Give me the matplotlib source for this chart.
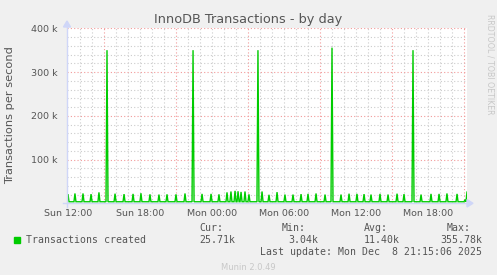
import matplotlib
matplotlib.use('Agg')
import matplotlib.pyplot as plt

# time in hours since Sun 00:00, values in k transactions/s
t_start = 11.9167   # Sun 11:55
t_end = 45.25       # Mon 21:15
base_level = 3.5

spike_times = [12.00, 12.58, 13.25, 13.92, 14.58, 15.25, 15.92, 16.67, 17.42, 18.08,
               18.83, 19.58, 20.25, 21.00, 21.75, 22.42, 23.17, 23.92, 24.58, 25.25,
               25.58, 25.92, 26.17, 26.42, 26.75, 27.08, 27.83, 28.17, 28.75, 29.42,
               30.08, 30.75, 31.42, 32.00, 32.67, 33.42, 34.00, 34.75, 35.42, 36.08,
               36.67, 37.25, 38.00, 38.67, 39.42, 40.00, 40.75, 41.42, 42.25, 42.92,
               43.58, 44.42, 45.08, 45.25]
spike_values = [21.0, 22.5, 22.5, 21.0, 25.0, 350.0, 22.0, 21.0, 21.5, 23.0,
                20.5, 20.0, 20.5, 20.5, 22.5, 350.0, 21.5, 21.5, 20.5, 25.0,
                27.0, 28.5, 27.5, 26.0, 27.0, 20.5, 350.0, 27.0, 19.5, 25.5,
                20.0, 20.0, 21.0, 21.5, 22.5, 20.0, 355.78, 20.0, 22.0, 21.5,
                21.0, 20.0, 21.5, 20.0, 22.0, 21.0, 350.0, 20.0, 21.5, 21.5,
                22.5, 21.5, 8.0, 25.71]

hour_labels = [12, 18, 24, 30, 36, 42]
hour_names = ['Sun 12:00', 'Sun 18:00', 'Mon 00:00', 'Mon 06:00', 'Mon 12:00', 'Mon 18:00']
major_x = [15, 21, 27, 33, 39, 45]
y_labels = [100, 200, 300, 400]

# build line vertices (spike peak with base points on each side)
xs, ys = [t_start], [base_level]
step = 5 / 60
for t, v in zip(spike_times, spike_values):
    if t - step > xs[-1]:
        xs.append(t - step)
        ys.append(base_level)
    xs.append(t)
    ys.append(v)
    if t + step <= t_end:
        xs.append(t + step)
        ys.append(base_level)

fig = plt.figure(figsize=(4.97, 2.75), dpi=100)
fig.patch.set_facecolor('#F0F0F0')
W, H = 497, 275
ax = fig.add_axes([67 / W, (H - 203.3) / H, 400 / W, 175 / H])
ax.set_facecolor('white')
ax.set_xlim(t_start, t_end)
ax.set_ylim(0, 400)
for s in ax.spines.values():
    s.set_visible(False)

grid_style = dict(linestyle=(0, (1, 2)), linewidth=0.8, zorder=1)
h = 13
while h <= 45:
    if h not in major_x:
        ax.axvline(h, color='#CCCCCC', **grid_style)
    h += 1
for yv in range(20, 401, 20):
    if yv % 100:
        ax.axhline(yv, color='#CCCCCC', **grid_style)
for xv in major_x:
    ax.axvline(xv, color='#F29A9A', **grid_style)
for yv in y_labels:
    ax.axhline(yv, color='#F29A9A', **grid_style)

ax.plot(xs, ys, color='#00CC00', linewidth=1.0, zorder=3, solid_joinstyle='miter')

ax.set_xticks(hour_labels, hour_names)
ax.set_yticks(y_labels, [f'{v} k' for v in y_labels])
ax.tick_params(length=0, labelsize=6.8, colors='#555555')
ax.tick_params(axis='x', pad=4)
ax.tick_params(axis='y', pad=7)

# axes with arrows
axis_col = '#CFD6F8'
fig.add_artist(plt.Line2D([63 / W, 468 / W], [(H - 203.3) / H] * 2, color=axis_col, lw=1))
fig.add_artist(plt.Line2D([67 / W] * 2, [(H - 207) / H, (H - 26) / H], color=axis_col, lw=1))
fig.add_artist(plt.Polygon([[467 / W, (H - 199.5) / H], [473 / W, (H - 203.3) / H],
                            [467 / W, (H - 207) / H]], color=axis_col))
fig.add_artist(plt.Polygon([[63.5 / W, (H - 27) / H], [67 / W, (H - 21) / H],
                            [70.5 / W, (H - 27) / H]], color=axis_col))

fig.text(248 / W, 1 - 20 / H, 'InnoDB Transactions - by day', ha='center', va='center',
         fontsize=9.3, color='#555555')
fig.text(10 / W, 1 - 115.5 / H, 'Transactions per second', rotation=90, ha='center',
         va='center', fontsize=8.2, color='#555555')
fig.text(490 / W, 1 - 14 / H, 'RRDTOOL / TOBI OETIKER', rotation=270, ha='center',
         va='top', fontsize=5.7, color='#C8C8C8')

mono = dict(family='DejaVu Sans Mono', fontsize=7.1, color='#555555')
fig.patches.append(plt.Rectangle((14 / W, 1 - 243 / H), 6 / W, 6 / H, color='#00CC00',
                                 transform=fig.transFigure, figure=fig))
fig.text(26 / W, 1 - 240 / H, 'Transactions created', va='center', **mono)
fig.text(199 / W, 1 - 228 / H, 'Cur:', va='center', **mono)
fig.text(235 / W, 1 - 240 / H, '25.71k', va='center', ha='right', **mono)
fig.text(282 / W, 1 - 228 / H, 'Min:', va='center', **mono)
fig.text(318 / W, 1 - 240 / H, '3.04k', va='center', ha='right', **mono)
fig.text(364 / W, 1 - 228 / H, 'Avg:', va='center', **mono)
fig.text(400 / W, 1 - 240 / H, '11.40k', va='center', ha='right', **mono)
fig.text(447 / W, 1 - 228 / H, 'Max:', va='center', **mono)
fig.text(482 / W, 1 - 240 / H, '355.78k', va='center', ha='right', **mono)
fig.text(482 / W, 1 - 252 / H, 'Last update: Mon Dec  8 21:15:06 2025', va='center',
         ha='right', **mono)
fig.text(248 / W, 1 - 267 / H, 'Munin 2.0.49', ha='center', va='center', fontsize=6,
         color='#C8C8C8')

fig.savefig('out.png', dpi=100, facecolor=fig.get_facecolor())
